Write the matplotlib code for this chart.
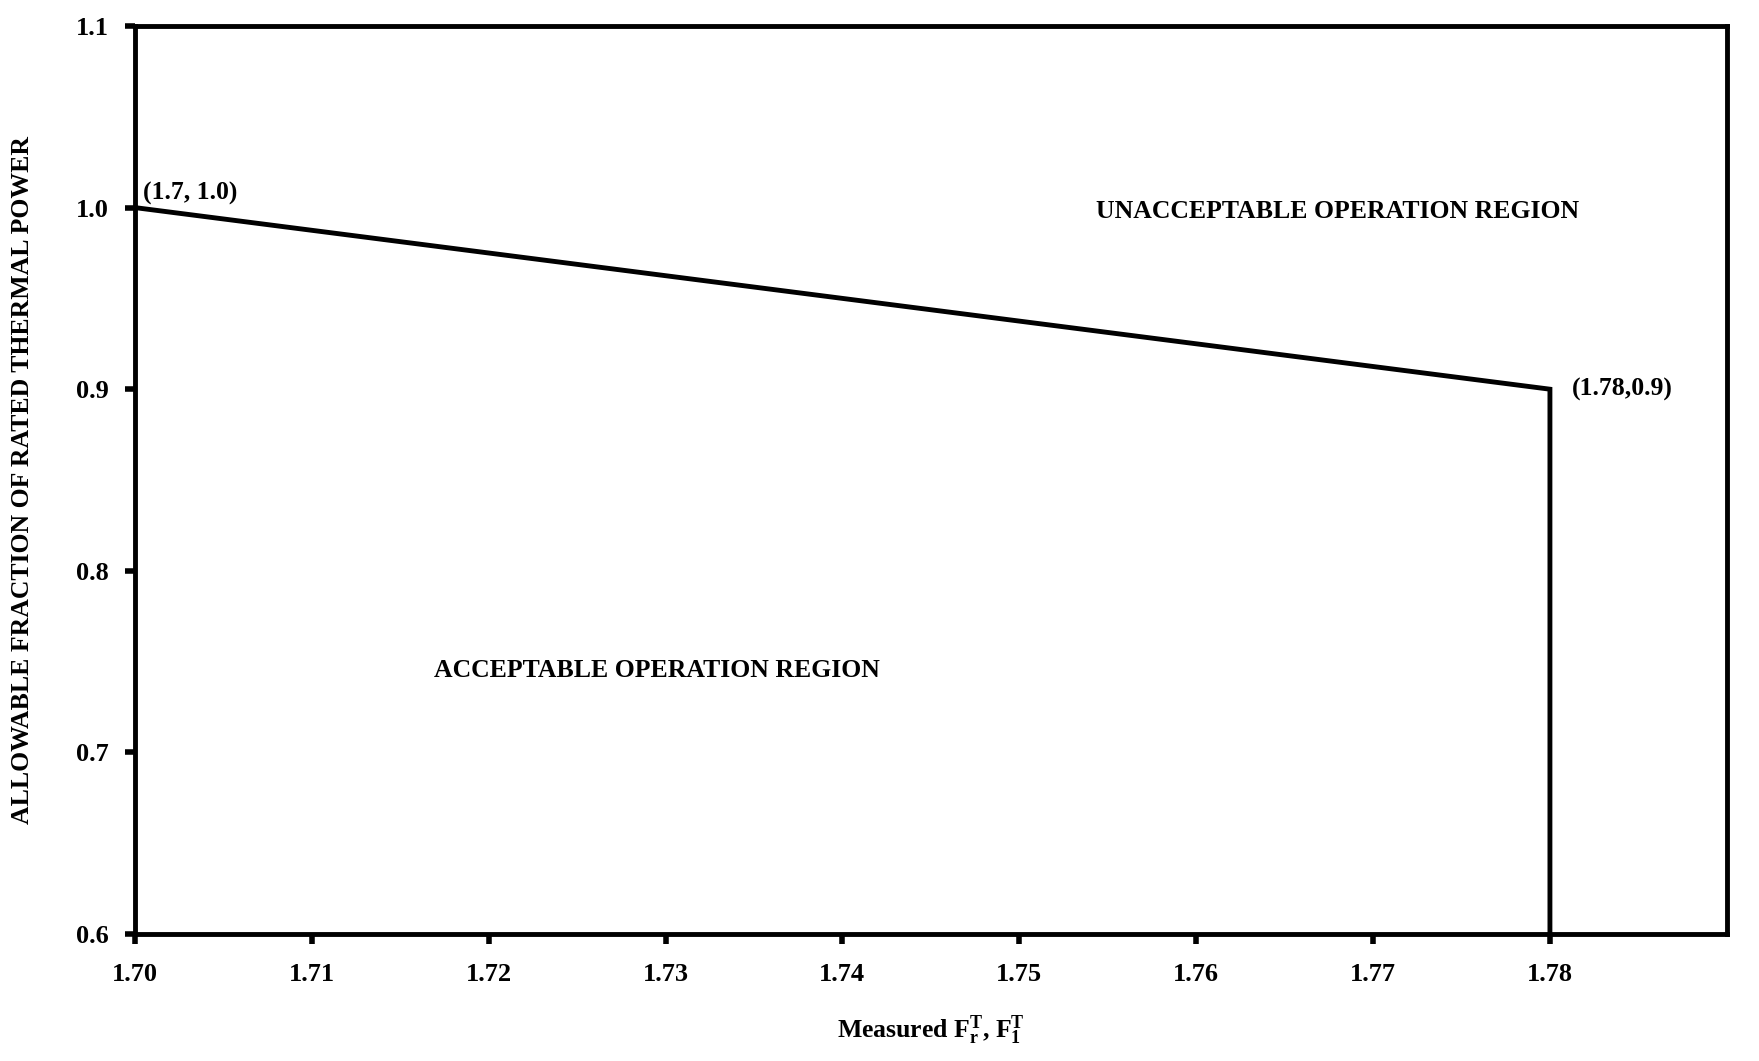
import matplotlib
matplotlib.use("Agg")
import matplotlib.pyplot as plt

# limit curve: allowable power fraction vs measured peaking factor
limit_x = [1.70, 1.78, 1.78]
limit_y = [1.0, 0.9, 0.6]

x_ticks = [1.70, 1.71, 1.72, 1.73, 1.74, 1.75, 1.76, 1.77, 1.78]
x_tick_labels = ["1.70", "1.71", "1.72", "1.73", "1.74", "1.75", "1.76", "1.77", "1.78"]
y_ticks = [0.6, 0.7, 0.8, 0.9, 1.0, 1.1]
y_tick_labels = ["0.6", "0.7", "0.8", "0.9", "1.0", "1.1"]

font = "Liberation Serif"
plt.rcParams["font.family"] = [font, "DejaVu Serif"]
fs = 18.5

fig = plt.figure(figsize=(17.59, 10.61), dpi=100)
ax = fig.add_axes([0.0767, 0.1197, 0.905, 0.8558])

ax.plot(limit_x, limit_y, color="black", lw=3.5, solid_joinstyle="miter")

ax.set_xlim(1.70, 1.79)
ax.set_ylim(0.6, 1.1)
for s in ax.spines.values():
    s.set_linewidth(3.5)

ax.set_xticks(x_ticks)
ax.set_xticklabels(x_tick_labels, fontsize=19, fontweight="bold")
ax.set_yticks(y_ticks)
ax.set_yticklabels(y_tick_labels, fontsize=19, fontweight="bold")
ax.tick_params(axis="x", direction="out", length=7, width=4, pad=14)
ax.tick_params(axis="y", direction="out", length=7, width=4, pad=12)

ax.annotate("(1.7, 1.0)", (limit_x[0], limit_y[0]), xytext=(6, 2),
            textcoords="offset points", ha="left", va="bottom",
            fontsize=fs, fontweight="bold")
ax.annotate("(1.78,0.9)", (limit_x[1], limit_y[1]), xytext=(16, 0),
            textcoords="offset points", ha="left", va="center",
            fontsize=fs, fontweight="bold")

ax.text(1.768, 0.998, "UNACCEPTABLE OPERATION REGION", ha="center", va="center",
        fontsize=fs, fontweight="bold")
ax.text(1.7295, 0.745, "ACCEPTABLE OPERATION REGION", ha="center", va="center",
        fontsize=fs, fontweight="bold")

ax.set_xlabel(r"Measured $\mathregular{F_r^T}$, $\mathregular{F_1^T}$",
              fontsize=fs, fontweight="bold", labelpad=20)
ax.set_ylabel("ALLOWABLE FRACTION OF RATED THERMAL POWER",
              fontsize=fs, fontweight="bold", labelpad=30)

fig.savefig("out.png", dpi=100)
